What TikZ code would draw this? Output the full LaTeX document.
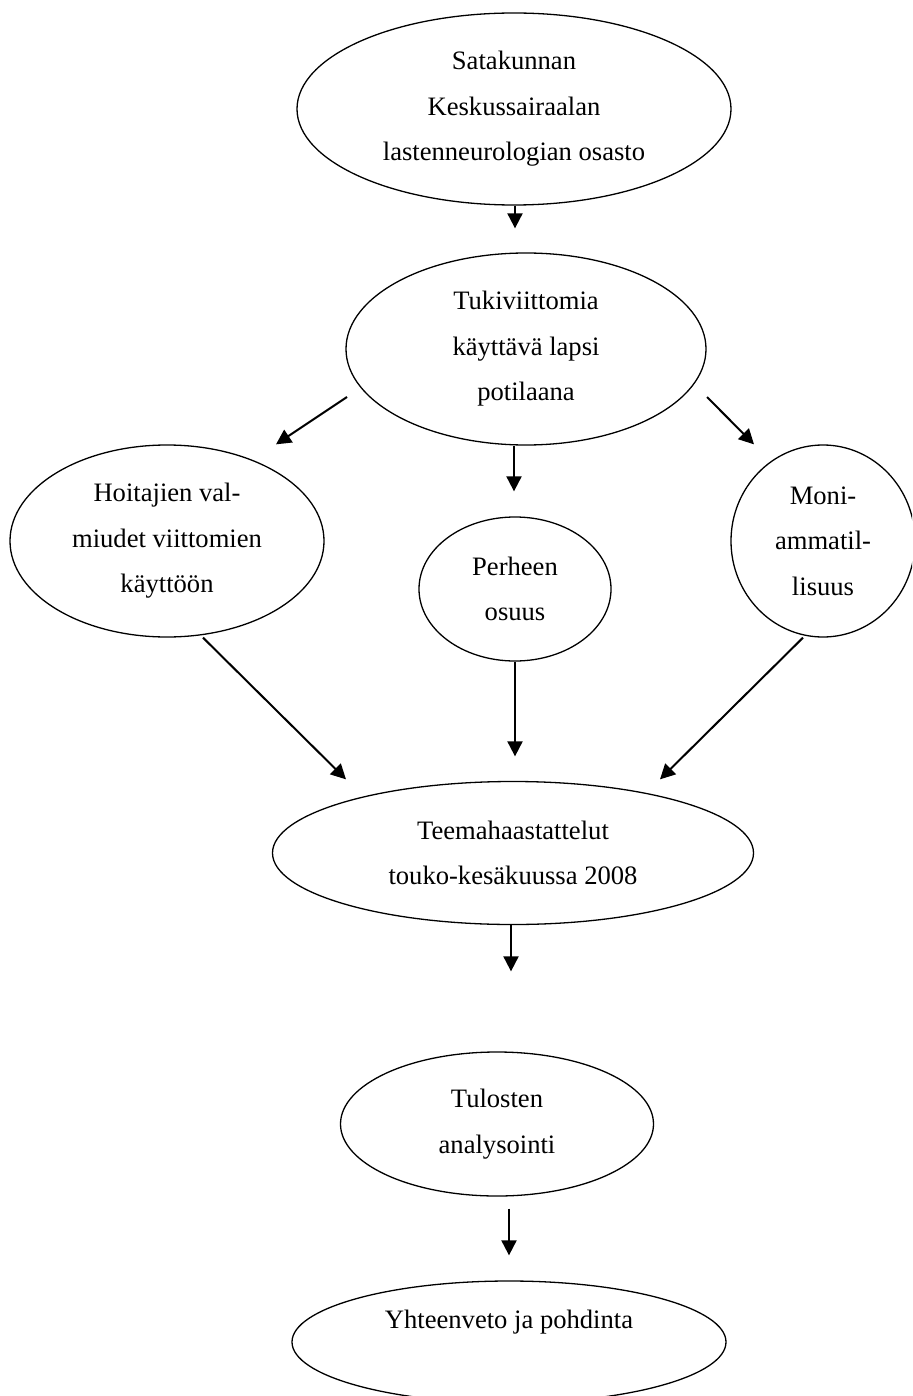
\documentclass[tikz,border=0pt]{standalone}
\usepackage{fontspec}
\setmainfont{Liberation Serif}
\usetikzlibrary{shapes.geometric,arrows.meta,calc}
\begin{document}
\begin{tikzpicture}[x=1pt,y=-1pt,
  oval/.style={ellipse,draw,line width=1.3pt,inner sep=0pt,align=center,
    font=\fontsize{26.6}{45.5}\selectfont},
  arr/.style={line width=2pt,-{Triangle[length=15pt,width=15pt]}}]
\useasboundingbox (0,0) rectangle (912,1396);
\clip (0,0) rectangle (912,1396);
\node[oval,minimum width=434pt,minimum height=192pt] (e1) at (514,109)
  {Satakunnan\\Keskussairaalan\\lastenneurologian osasto};
\node[oval,minimum width=360pt,minimum height=192pt] (e2) at (526,349)
  {Tukiviittomia\\käyttävä lapsi\\potilaana};
\node[oval,minimum width=314pt,minimum height=192pt] (e3) at (167,541)
  {Hoitajien val-\\miudet viittomien\\käyttöön};
\node[oval,minimum width=192pt,minimum height=144pt] (e4) at (515,589)
  {Perheen\\osuus};
\node[oval,minimum width=184pt,minimum height=192pt] (e5) at (823,541)
  {Moni-\\ammatil-\\lisuus};
\node[oval,minimum width=481pt,minimum height=143pt] (e6) at (513,853)
  {Teemahaastattelut\\touko-kesäkuussa 2008};
\node[oval,minimum width=313pt,minimum height=144pt] (e7) at (497,1124)
  {Tulosten\\analysointi};
\node[oval,minimum width=434pt,minimum height=122pt] (e8) at (509,1342)
  {Yhteenveto ja pohdinta\\\mbox{}};
\draw[arr] ($(e1.south)+(1,0)$) -- ($(e2.north)+(-11,-24)$);
\draw[arr] ($(e2.center)+(-179,48)$) -- ($(e3.north)+(109,0)$);
\draw[arr] ($(e2.south)+(-12,0)$) -- ($(e4.north)+(-1,-25)$);
\draw[arr] ($(e2.center)+(181,48)$) -- ($(e5.north)+(-69,0)$);
\draw[arr] ($(e3.south)+(36,0)$) -- ($(e6.north)+(-167,-1.5)$);
\draw[arr] (e4.south) -- ($(e6.north)+(2,-24.5)$);
\draw[arr] ($(e5.south)+(-20,0)$) -- ($(e6.north)+(147,-1.5)$);
\draw[arr] ($(e6.south)+(-2,0)$) -- ($(e7.north)+(14,-80)$);
\draw[arr] ($(e7.south)+(12,12)$) -- ($(e8.north)+(0,-25)$);
\end{tikzpicture}
\end{document}
